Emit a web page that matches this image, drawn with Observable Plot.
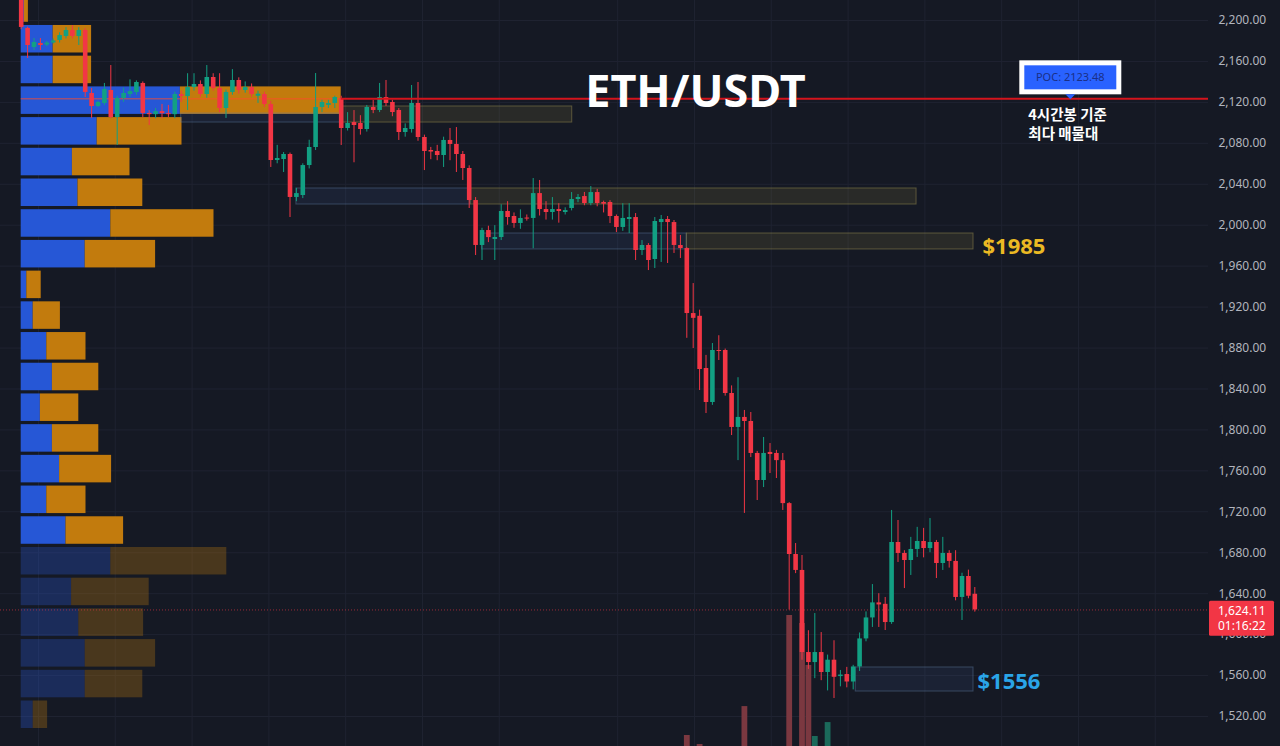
<!DOCTYPE html>
<html><head><meta charset="utf-8">
<script src="https://cdn.jsdelivr.net/npm/d3@7"></script>
<script src="https://cdn.jsdelivr.net/npm/@observablehq/plot@0.6"></script>
<style>
html,body{margin:0;padding:0;background:#151924;}
#chart{position:relative;width:1280px;height:746px;overflow:hidden;background:#151924;}
#chart svg{position:absolute;left:0;top:0;}
</style></head><body><div id="chart"></div>
<script>
// ---------- DATA ----------
const symbol = "ETH/USDT";
const open = [
2240,2192.2,2173.6,2177.5,2176.0,2178.0,2180.5,2184.4,2190.2,2184.4,
2190.2,2128.7,2116.0,2118.9,2131.6,2105.2,2123.8,2127.7,2129.6,2138.5,
2109.2,2108.0,2111.0,2109.0,2108.0,2127.7,2125.7,2134.5,2137.5,2127.7,
2144.3,2133.6,2114.0,2129.7,2141.4,2131.6,2134.5,2126.0,2127.7,2117.9,
2063.2,2064.2,2069.1,2027.1,2029.0,2058.3,2075.9,2115.0,2117.0,2118.9,
2123.8,2094.5,2100.3,2099.4,2093.5,2115.0,2112.1,2124.8,2119.9,2112.1,
2090.6,2093.5,2118.9,2085.7,2073.0,2072.0,2068.1,2082.8,2078.9,2069.1,
2055.4,2024.1,1980.2,1994.8,1986.0,1988.0,2013.4,2008.5,2001.7,2007.0,
2006.6,2030.9,2015.3,2012.4,2015.3,2012.4,2016.3,2025.1,2028.0,2021.2,
2031.9,2022.2,2022.2,2008.5,1997.8,2005.6,2007.5,1975.3,1980.2,1966.5,
2002.6,2005.6,2002.6,1980.2,1977.2,1913.7,1911.0,1860.0,1826.8,1877.6,
1877.6,1835.6,1802.4,1812.2,1808.2,1777.0,1750.6,1778.0,1777.0,1770.0,
1728.0,1678.3,1662.7,1582.5,1572.7,1582.5,1563.0,1575.0,1559.0,1561.0,
1553.7,1568.4,1595.8,1616.3,1631.0,1629.6,1611.8,1690.0,1679.3,1672.4,
1683.2,1691.0,1684.1,1690.0,1669.5,1679.3,1671.5,1636.3,1656.8,1639.4];
const high = [
2246,2193.5,2182.4,2182.4,2179.5,2182.0,2188.0,2193.0,2195.0,2193.0,
2192.0,2133.6,2121.0,2138.5,2156.0,2126.0,2134.0,2142.0,2141.0,2140.0,
2112.0,2114.0,2118.0,2117.0,2130.0,2131.0,2148.0,2148.0,2141.0,2156.0,
2148.0,2148.0,2132.0,2152.0,2144.0,2140.0,2138.0,2131.0,2130.0,2121.0,
2078.0,2071.0,2070.5,2036.0,2060.0,2083.0,2148.2,2122.0,2122.0,2126.0,
2126.0,2110.0,2112.0,2107.0,2117.0,2122.0,2138.5,2141.4,2122.0,2114.0,
2099.0,2136.5,2139.4,2088.0,2076.0,2078.0,2086.0,2094.5,2095.4,2072.0,
2058.0,2027.0,1997.0,1999.0,1999.6,2020.0,2023.0,2012.0,2015.0,2010.0,
2045.6,2043.7,2023.0,2027.0,2021.0,2017.0,2031.9,2030.0,2032.0,2037.8,
2035.0,2023.5,2024.0,2010.0,2021.0,2021.0,2011.4,1985.0,1982.0,2007.5,
2009.5,2008.5,2004.6,1990.0,1978.0,1943.0,1917.0,1872.8,1884.4,1892.0,
1879.0,1843.0,1851.0,1819.0,1817.0,1779.0,1792.6,1786.7,1780.0,1777.0,
1729.0,1689.0,1677.3,1603.8,1620.6,1602.0,1580.0,1594.0,1565.0,1568.0,
1570.0,1601.6,1622.2,1648.9,1640.0,1636.3,1721.3,1711.5,1682.0,1695.0,
1704.8,1703.8,1713.4,1692.0,1695.0,1682.0,1682.0,1660.0,1663.0,1646.0];
const low = [
2191.0,2162.9,2170.7,2170.7,2174.5,2177.0,2178.0,2182.0,2182.0,2175.6,
2124.8,2104.3,2115.0,2117.0,2104.0,2077.9,2120.0,2125.0,2127.0,2105.0,
2097.4,2104.0,2104.0,2105.0,2104.0,2120.0,2112.0,2131.0,2125.0,2124.0,
2131.0,2110.0,2104.3,2127.0,2128.0,2129.0,2125.0,2119.0,2115.0,2056.4,
2060.0,2051.5,2007.5,2023.0,2026.0,2055.0,2073.0,2110.0,2114.0,2114.0,
2077.9,2092.0,2061.0,2088.0,2091.0,2109.0,2110.0,2116.0,2106.0,2082.8,
2086.0,2090.0,2082.0,2053.4,2064.0,2063.0,2056.4,2063.0,2051.5,2043.7,
2016.3,1970.4,1965.5,1983.0,1965.5,1985.0,2000.0,1997.0,1996.0,2004.0,
1977.0,2009.0,2005.0,2005.0,2002.0,2010.0,2014.0,2022.0,2019.0,2019.0,
2018.0,2012.0,2001.6,1992.8,1994.0,1991.8,1965.5,1970.4,1955.7,1957.7,
1963.6,1962.6,1972.4,1967.5,1889.5,1879.5,1838.5,1816.0,1824.0,1867.8,
1833.0,1794.5,1770.0,1718.4,1773.0,1731.0,1743.7,1757.4,1752.5,1721.3,
1624.0,1659.6,1575.0,1566.0,1557.0,1555.0,1545.0,1537.6,1549.0,1548.0,
1546.0,1564.0,1593.0,1607.0,1607.0,1604.0,1610.0,1670.5,1645.0,1657.8,
1675.4,1675.0,1680.0,1654.8,1662.7,1665.0,1633.0,1613.8,1635.0,1622.0];
const close = [
2193.2,2175.6,2178.5,2175.6,2178.0,2180.0,2185.3,2190.2,2184.4,2190.2,
2129.7,2116.0,2119.9,2132.6,2105.2,2123.8,2128.7,2130.6,2139.4,2109.2,
2108.0,2111.0,2109.0,2108.0,2127.7,2125.7,2134.5,2137.5,2127.7,2144.3,
2133.6,2114.0,2129.7,2141.4,2131.6,2134.5,2127.7,2128.0,2117.9,2063.2,
2065.2,2069.1,2027.1,2030.9,2058.3,2075.9,2115.0,2119.9,2118.9,2124.8,
2094.5,2099.4,2097.4,2093.5,2115.0,2112.1,2124.8,2118.9,2110.1,2090.6,
2094.5,2118.9,2085.7,2072.0,2071.5,2068.1,2082.8,2078.9,2069.1,2055.4,
2024.1,1980.2,1994.8,1987.9,1988.0,2013.4,2007.5,2001.7,2006.6,2006.0,
2030.9,2015.3,2012.4,2015.3,2013.4,2014.3,2025.1,2027.1,2021.2,2031.9,
2021.2,2020.5,2008.5,1997.8,2006.6,2007.5,1975.3,1980.2,1965.5,2003.6,
2005.6,2002.6,1980.2,1977.2,1913.7,1909.0,1859.0,1826.8,1877.6,1876.6,
1835.6,1802.4,1812.2,1808.2,1777.0,1750.6,1777.0,1776.0,1770.0,1728.0,
1678.3,1662.7,1582.5,1572.7,1582.5,1563.0,1575.0,1558.3,1560.5,1553.7,
1568.4,1595.8,1616.3,1631.0,1629.0,1611.8,1690.0,1679.3,1672.4,1683.2,
1691.0,1684.1,1690.0,1669.5,1679.3,1671.5,1636.3,1656.8,1637.5,1624.11];
const volume = [
9,7,4,4,3,3,5,6,5,6, 12,9,4,7,11,10,5,4,5,8, 4,3,3,3,6,3,7,4,5,7, 5,7,6,6,4,3,3,3,4,11,
4,4,10,4,6,6,12,4,3,4, 8,4,5,4,6,3,6,5,4,7, 3,7,8,6,3,3,5,3,5,6, 9,12,7,5,6,7,4,4,3,3,
8,5,3,3,3,2,4,3,3,5, 4,2,4,5,4,3,8,4,5,9, 4,3,5,3,20.6,12,15.3,13,11,7, 10,12,13,37.6,11,12,10,6,7,13,
91.2,13,86.5,61.8,20,12,28.2,13,7,6, 8,10,9,10,6,7,13,8,7,6, 5,5,6,6,5,4,7,6,5,3];

// Volume profile (price bins of $30, lower edges) — buy / sell volume
const binLow  = [2196.7,2166.7,2136.7,2106.7,2076.7,2046.7,2016.7,1986.7,1956.7,1926.7,1896.7,1866.7,
                 1836.7,1806.7,1776.7,1746.7,1716.7,1686.7,1656.7,1626.7,1596.7,1566.7,1536.7,1506.7];
const binSize = 30;
const buyVol  = [2,20,20,99.5,47.5,32,35.5,56,40,3.5,7.5,16,19.5,12,19.5,24,16,28,56,31.5,36,40,40,7.5];
const sellVol = [2.5,24,24,100.5,53,36,40.5,64.5,44,9,17,24.5,29,24,29,32.5,24.5,36,72.5,48.5,40.5,44,36,9];
const valueAreaLow = 1686.7;
const poc = 2123.48;
const pocNote = ["4시간봉 기준", "최다 매물대"];
const pocLabelAt = 164;      // candle index where the POC callout sits
const pocLineFrom = 50;      // candle index where the POC ray starts

// Zones (candle index span, price range)
const zoneFrom = [25, 50, 43, 70.2, 72, 104, 130.4];
const zoneTo   = [50, 86.1, 70.2, 139.9, 104, 148.8, 148.8];
const zoneLo   = [2100.3, 2100.3, 2020.2, 2020.2, 1976.3, 1976.3, 1544.4];
const zoneHi   = [2109.1, 2116.0, 2035.9, 2035.9, 1991.9, 1991.9, 1567.9];
const zoneKind = ["demand","supply","demand","supply","demand","supply","demand"];
const zoneLabel = ["", "", "", "", "", "$1985", "$1556"];

const yTicks = [1520,1560,1600,1640,1680,1720,1760,1800,1840,1880,1920,1960,2000,2040,2080,2120,2160,2200];
const timeGrid = [2.7,14.7,26.7,38.7,50.7,62.7,74.7,93.2,105.2,117.2,129.2,141.2,153.2,165.2,177.2];
const countdown = "01:16:22";

// ---------- COLORS ----------
const BG = "#151924", GRID = "#1f2331";
const UP = "#12a083", DOWN = "#f23645";
const VUP = "#1b6a5b", VDOWN = "#7b3840";
const BUY = "#2657d6", SELL = "#c27b0d";
const BUY_DIM = "rgba(42,91,215,0.3)", SELL_DIM = "rgba(196,125,14,0.3)";

// ---------- DERIVED TABLES ----------
const candles = open.map((o, i) => ({i, o, h: high[i], l: low[i], c: close[i], v: volume[i], up: close[i] >= o}));
const profile = binLow.map((lo, k) => ({lo, hi: lo + binSize, buy: buyVol[k], sell: sellVol[k], va: lo >= valueAreaLow}));
const zones = zoneFrom.map((f, k) => ({from: f, to: zoneTo[k], lo: zoneLo[k], hi: zoneHi[k], kind: zoneKind[k], label: zoneLabel[k]}));
const last = candles[candles.length - 1];
const pocRow = profile.find(d => poc >= d.lo && poc < d.hi);

const W = 1280, H = 746, MR = 72;
const X = {domain: [0, 149], range: [20.7, 974.3], axis: null};
const Y = {domain: [1520, 2200], range: [716, 20]};
const xEdge = (W - MR - 20.7) / 6.4; // index at right frame edge

const base = {width: W, height: H, marginLeft: 0, marginRight: MR, marginTop: 0, marginBottom: 0,
  color: {type: "identity"}};
const chart = document.getElementById("chart");

// Layer A: background grid
chart.append(Plot.plot({...base, x: X, y: {...Y, axis: null}, style: {background: BG},
  marks: [
    Plot.ruleY(yTicks, {y: d => d, stroke: GRID}),
    Plot.ruleX(timeGrid, {x: d => d, stroke: GRID})
  ]}));

// Layer B: volume profile
chart.append(Plot.plot({...base, x: {domain: [0, 100], range: [20.7, 180.7], axis: null}, y: {...Y, axis: null},
  style: {background: "transparent"},
  marks: [
    Plot.rect(profile, {x1: 0, x2: "buy", y1: "lo", y2: "hi", fill: d => d.va ? BUY : BUY_DIM, insetTop: 1.6, insetBottom: 1.6}),
    Plot.rect(profile, {x1: "buy", x2: d => d.buy + d.sell, y1: "lo", y2: "hi", fill: d => d.va ? SELL : SELL_DIM, insetTop: 1.6, insetBottom: 1.6}),
    Plot.ruleY([poc], {y: d => d, x1: 0, x2: pocRow.buy + pocRow.sell, stroke: "#ff4a2a", strokeOpacity: 0.55, strokeWidth: 1.5})
  ]}));

// Layer C: volume histogram
chart.append(Plot.plot({...base, x: X, y: {domain: [0, 100], range: [770, 600], axis: null},
  style: {background: "transparent"},
  marks: [
    Plot.ruleX(candles, {x: "i", y1: 0, y2: "v", stroke: d => d.up ? VUP : VDOWN, strokeWidth: 5.8})
  ]}));

// Layer D: zones, candles, lines, labels, price axis
function callouts(index, scales, values, dims) {
  const sx = scales.x, sy = scales.y;
  const g = d3.create("svg:g");
  const cx = sx(pocLabelAt), cy = sy(poc);
  g.append("rect").attr("x", cx - 51).attr("y", cy - 38).attr("width", 102).attr("height", 34).attr("fill", "#ffffff");
  g.append("rect").attr("x", cx - 46).attr("y", cy - 33).attr("width", 92).attr("height", 24).attr("fill", "#2962ff");
  g.append("text").attr("x", cx).attr("y", cy - 21).attr("dy", "0.35em").attr("text-anchor", "middle")
    .attr("fill", "#1a2f86").attr("font-size", 11).attr("font-family", "'Noto Sans', sans-serif")
    .text("POC: " + poc.toFixed(2));
  g.append("path").attr("d", `M${cx - 5},${cy - 4}L${cx + 5},${cy - 4}L${cx},${cy + 1}Z`).attr("fill", "#2962ff");
  const note = g.append("text").attr("fill", "#ffffff").attr("font-size", 14.5).attr("font-weight", "bold")
    .attr("text-anchor", "start").attr("font-family", "'Noto Sans CJK KR', sans-serif");
  pocNote.forEach((line, k) => note.append("tspan").attr("x", cx - 42).attr("y", cy + 17 + k * 18.5).attr("dy", "0.35em").text(line));
  // last price tag
  const fx = dims.width - dims.marginRight, ty = sy(last.c);
  g.append("rect").attr("x", fx + 1).attr("y", ty - 8.7).attr("width", 65).attr("height", 35).attr("rx", 1.5).attr("fill", DOWN);
  const tag = g.append("text").attr("fill", "#ffffff").attr("font-size", 12).attr("text-anchor", "start")
    .attr("font-family", "'Noto Sans', sans-serif");
  tag.append("tspan").attr("x", fx + 10).attr("y", ty + 1.5).attr("dy", "0.35em").text(d3.format(",.2f")(last.c));
  tag.append("tspan").attr("x", fx + 10).attr("y", ty + 16.5).attr("dy", "0.35em").text(countdown);
  return g.node();
}

chart.append(Plot.plot({...base, x: X,
  y: {...Y, axis: "right", ticks: yTicks, tickFormat: d3.format(",.2f"), tickSize: 0, tickPadding: 10, label: null},
  style: {background: "transparent", color: "#b2b5be", fontFamily: "'Noto Sans', sans-serif", fontSize: "12px"},
  marks: [
    Plot.rect(zones, {x1: "from", x2: "to", y1: "lo", y2: "hi",
      fill: d => d.kind === "supply" ? "rgba(160,150,70,0.14)" : "rgba(70,110,170,0.12)",
      stroke: d => d.kind === "supply" ? "rgba(150,140,80,0.5)" : "rgba(100,130,170,0.42)", strokeWidth: 1}),
    Plot.ruleY([last.c], {y: d => d, stroke: DOWN, strokeOpacity: 0.6, strokeDasharray: "1,2"}),
    Plot.ruleX(candles, {x: "i", y1: "l", y2: "h", stroke: d => d.up ? UP : DOWN, strokeWidth: 1}),
    Plot.ruleX(candles, {x: "i", y1: "o", y2: "c", stroke: d => d.up ? UP : DOWN, strokeWidth: 4.6}),
    Plot.ruleY([poc], {y: d => d, x1: pocLineFrom, x2: xEdge, stroke: "#d4141c", strokeWidth: 2}),
    Plot.text(zones.filter(d => d.label === "$1985"), {x: "to", y: d => (d.lo + d.hi) / 2, text: "label", dx: 9, dy: 5,
      textAnchor: "start", fill: "#ebb923", fontSize: 22, fontWeight: "bold"}),
    Plot.text(zones.filter(d => d.label === "$1556"), {x: "to", y: d => (d.lo + d.hi) / 2, text: "label", dx: 4, dy: 2,
      textAnchor: "start", fill: "#2aa5e8", fontSize: 22, fontWeight: "bold"}),
    Plot.text([symbol], {text: d => d, frameAnchor: "top-left", textAnchor: "middle", dx: 695, dy: 75, fill: "#ffffff",
      fontSize: 45, fontWeight: "bold", fontFamily: "'Noto Sans', sans-serif"}),
    callouts
  ]}));
</script></body></html>
